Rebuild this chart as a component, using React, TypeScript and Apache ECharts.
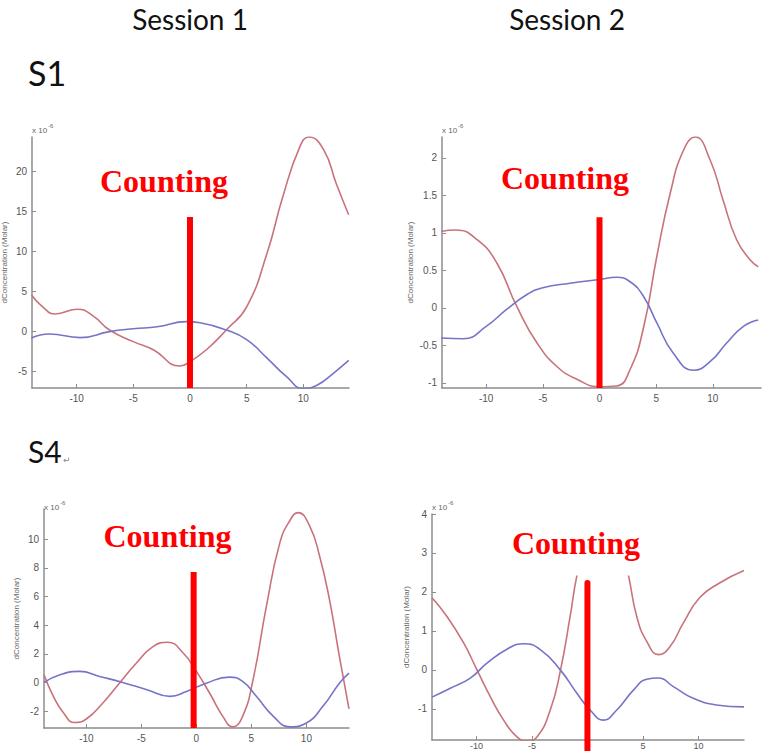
import React, { useEffect, useRef } from "react";
import * as echarts from "echarts";

// ---- tick labels ----
const xTicks = [-10, -5, 0, 5, 10];
const yTicksP1 = [-5, 0, 5, 10, 15, 20];
const yTicksP2 = [-1, -0.5, 0, 0.5, 1, 1.5, 2];
const yTicksP3 = [-2, 0, 2, 4, 6, 8, 10];
const yTicksP4 = [-1, 0, 1, 2, 3, 4];

// ---- axis ranges ----
const xMin = [-13.94, -13.9, -13.85, -14.0];
const xMax = [14.03, 14.25, 13.87, 14.1];
const yMin = [-7.04, -1.067, -3.18, -1.8];
const yMax = [24.3, 2.28, 12.1, 4.0];

// ---- titles ----
const sessionTitles = ["Session 1", "Session 2"];
const subjectTitles = ["S1", "S4"];
const countingLabel = "Counting";
const yAxisName = "dConcentration (Molar)";

// ---- "Counting" marker line ----
const countingX = [0, 0, -0.25, 0];
const countingTop = [14.3, 1.21, 7.7, 2.23];
const countingBottom = [-7.04, -1.067, -3.18, -2.08];

// ---- S1, Session 1 ----
const p1RedX = [-14, -13, -11.9, -9.9, -8.5, -7.1, -5, -3.2, -0.9, 0, 1.5, 3.2, 5, 6.8, 8.2, 9.7, 10.5, 11.8, 12.9, 14];
const p1RedY = [4.6, 3.1, 2.2, 2.8, 1.9, 0.2, -1.25, -2.3, -4.3, -3.75, -2.2, 0.2, 3.1, 9.8, 16.9, 23.1, 24.3, 22.7, 18.5, 14.6];
const p1BlueX = [-14, -12.4, -9.7, -7.1, -5, -2.9, -0.3, 0.9, 3.2, 5, 6.8, 8.5, 10, 11.2, 12.65, 14];
const p1BlueY = [-0.8, -0.3, -0.75, 0, 0.35, 0.6, 1.25, 1.1, 0.2, -1.0, -3.3, -5.6, -7.1, -6.7, -5.2, -3.6];

// ---- S1, Session 2 ----
const p2RedX = [-14, -12.7, -10.8, -9.06, -7.3, -5.5, -3.76, -2, 0, 1.5, 2.7, 3.9, 5.06, 6.24, 7.4, 8.45, 9.77, 10.9, 12.1, 13.3, 14];
const p2RedY = [1.02, 1.04, 0.91, 0.6, 0.02, -0.47, -0.78, -0.95, -1.05, -1.04, -0.82, -0.25, 0.69, 1.53, 2.1, 2.28, 1.97, 1.44, 0.91, 0.64, 0.55];
const p2BlueX = [-14, -12, -10, -8.2, -6.4, -5, -2.6, 0, 1.5, 2.7, 3.9, 5.06, 6.5, 8.3, 9.8, 11.2, 12.7, 14];
const p2BlueY = [-0.4, -0.41, -0.245, -0.02, 0.18, 0.27, 0.33, 0.38, 0.41, 0.35, 0.15, -0.2, -0.6, -0.83, -0.71, -0.47, -0.245, -0.16];

// ---- S4, Session 1 ----
const p3RedX = [-13.85, -13, -12.1, -11.06, -10, -8.5, -7, -5.45, -3.95, -2.6, -1.2, 0, 1.2, 2.4, 3.3, 4.2, 5.15, 6.36, 7.57, 8.5, 9.24, 10.3, 11.2, 12.1, 13, 13.87];
const p3RedY = [0.54, -0.97, -2.1, -2.8, -2.55, -1.44, -0.05, 1.35, 2.5, 2.8, 2.05, 0.77, -0.74, -2.37, -3.1, -2.37, 0.19, 5.3, 9.7, 11.3, 11.85, 10.9, 8.8, 5.76, 1.8, -1.85];
const p3BlueX = [-13.85, -12.4, -10.6, -8.8, -6.7, -4.5, -2.4, -0.9, 0.9, 3.0, 4.2, 5.45, 7.0, 8.5, 10, 11.5, 13, 13.87];
const p3BlueY = [0, 0.54, 0.77, 0.42, 0, -0.51, -0.97, -0.63, -0.05, 0.37, 0.07, -0.97, -2.37, -3.1, -2.83, -1.67, -0.05, 0.65];

// ---- S4, Session 2 ----
const p4RedX = [-14, -12.65, -11.15, -9.95, -8.75, -7.55, -6.35, -5.45, -4.55, -3.35, -2.45, -1.56, -0.95, 0, 1.4, 2.8, 3.7, 4.44, 5.34, 6.4, 7.44, 8.63, 10.1, 11.9, 14.1];
const p4RedY = [1.85, 1.37, 0.69, 0, -0.69, -1.29, -1.72, -1.82, -1.72, -1.03, -0.04, 1.37, 2.42, 3.5, 3.9, 3.5, 2.42, 1.37, 0.73, 0.39, 0.6, 1.2, 1.85, 2.23, 2.55];
const p4BlueX = [-14, -12.35, -10.55, -9.05, -7.25, -5.75, -4.25, -2.45, -0.95, 0.24, 1.44, 2.64, 4.14, 5.34, 6.4, 7.74, 9.53, 11.6, 14.1];
const p4BlueY = [-0.7, -0.47, -0.21, 0.17, 0.53, 0.67, 0.52, 0, -0.6, -1.03, -1.29, -1.03, -0.52, -0.24, -0.21, -0.43, -0.73, -0.9, -0.95];

const yTicks = [yTicksP1, yTicksP2, yTicksP3, yTicksP4];
const redX = [p1RedX, p2RedX, p3RedX, p4RedX];
const redY = [p1RedY, p2RedY, p3RedY, p4RedY];
const blueX = [p1BlueX, p2BlueX, p3BlueX, p4BlueX];
const blueY = [p1BlueY, p2BlueY, p3BlueY, p4BlueY];

const zip = (xs: number[], ys: number[]) => xs.map((x, i) => [x, ys[i]]);

const RED = "#c8737a";
const BLUE = "#7674c6";
const AXIS = "#8c8c8c";
const TICKTXT = "#555";

export default function App() {
  const ref = useRef<HTMLDivElement>(null);
  useEffect(() => {
    if (!ref.current) return;
    const chart = echarts.init(ref.current, null, { renderer: "svg" });

    const grids = [
      { left: 32, top: 137, width: 317, height: 251 },
      { left: 442, top: 137, width: 319, height: 251 },
      { left: 44, top: 509, width: 305, height: 219 },
      { left: 432, top: 514, width: 312, height: 226 },
    ];
    const nameGaps = [24, 28, 24, 22];
    const xLabelSize = [10, 10, 10, 9];
    const xLabelMargin = [5, 5, 5, 1];
    const expPos = [
      [32, 130],
      [442, 130],
      [44, 507],
      [432, 507],
    ];
    const countingPos = [
      [164, 181],
      [565, 178],
      [167.5, 536],
      [576, 542.5],
    ];

    const xAxis = grids.map((_, i) => ({
      type: "value",
      gridIndex: i,
      min: xMin[i],
      max: xMax[i],
      axisLine: { show: true, onZero: false, lineStyle: { color: AXIS, width: 1.5 } },
      axisTick: { show: true, inside: true, length: 4, customValues: xTicks, lineStyle: { color: AXIS } },
      axisLabel: {
        customValues: xTicks,
        color: TICKTXT,
        fontSize: xLabelSize[i],
        fontFamily: "Liberation Sans",
        margin: xLabelMargin[i],
      },
      splitLine: { show: false },
    }));

    const yAxis = grids.map((_, i) => ({
      type: "value",
      gridIndex: i,
      min: yMin[i],
      max: yMax[i],
      name: yAxisName,
      nameLocation: "middle",
      nameGap: nameGaps[i],
      nameTextStyle: { color: "#666", fontSize: 8, fontFamily: "Liberation Sans" },
      axisLine: { show: true, onZero: false, lineStyle: { color: AXIS, width: 1.5 } },
      axisTick: { show: true, inside: true, length: 4, customValues: yTicks[i], lineStyle: { color: AXIS } },
      axisLabel: {
        customValues: yTicks[i],
        color: TICKTXT,
        fontSize: 10,
        fontFamily: "Liberation Sans",
        margin: 5,
      },
      splitLine: { show: false },
    }));

    const series: any[] = [];
    grids.forEach((_, i) => {
      series.push({
        type: "line",
        xAxisIndex: i,
        yAxisIndex: i,
        data: zip(redX[i], redY[i]),
        smooth: 0.5,
        showSymbol: false,
        symbol: "none",
        lineStyle: { color: RED, width: 1.6 },
        z: 3,
      });
      series.push({
        type: "line",
        xAxisIndex: i,
        yAxisIndex: i,
        data: zip(blueX[i], blueY[i]),
        smooth: 0.5,
        showSymbol: false,
        symbol: "none",
        lineStyle: { color: BLUE, width: 1.6 },
        z: 3,
      });
      series.push({
        type: "line",
        xAxisIndex: i,
        yAxisIndex: i,
        data: [
          [countingX[i], countingBottom[i]],
          [countingX[i], countingTop[i]],
        ],
        showSymbol: false,
        symbol: "none",
        clip: false,
        lineStyle: { color: "#ff0000", width: 6, cap: i === 3 ? "round" : "butt" },
        z: 4,
      });
    });

    const graphic: any[] = [];
    // white patch hiding the peak in the last panel
    graphic.push({
      type: "rect",
      shape: { x: 500, y: 512, width: 150, height: 63.5 },
      style: { fill: "#ffffff" },
      z: 50,
    });
    sessionTitles.forEach((t, i) => {
      graphic.push({
        type: "text",
        x: i === 0 ? 190 : 567,
        y: 18.5,
        style: {
          text: t,
          fontFamily: "Lato",
          fontSize: 28,
          fill: "#111",
          textAlign: "center",
          textVerticalAlign: "middle",
        },
        z: 60,
      });
    });
    graphic.push({
      type: "text",
      x: 28,
      y: 72.5,
      style: { text: subjectTitles[0], fontFamily: "Lato", fontSize: 34, fill: "#111", textAlign: "left", textVerticalAlign: "middle" },
      z: 60,
    });
    graphic.push({
      type: "text",
      x: 28,
      y: 451,
      style: { text: subjectTitles[1], fontFamily: "Lato", fontSize: 30, fill: "#111", textAlign: "left", textVerticalAlign: "middle" },
      z: 60,
    });
    graphic.push({
      type: "text",
      x: 63,
      y: 460,
      style: { text: "\u21B5", fontFamily: "DejaVu Sans", fontSize: 9, fill: "#888", textAlign: "left", textVerticalAlign: "middle" },
      z: 60,
    });
    grids.forEach((_, i) => {
      graphic.push({
        type: "text",
        x: countingPos[i][0],
        y: countingPos[i][1],
        style: {
          text: countingLabel,
          fontFamily: "Liberation Serif",
          fontWeight: "bold",
          fontSize: 32,
          fill: "#ff0000",
          textAlign: "center",
          textVerticalAlign: "middle",
        },
        z: 60,
      });
      graphic.push({
        type: "text",
        x: expPos[i][0],
        y: expPos[i][1],
        style: { text: "x 10", fontFamily: "Liberation Sans", fontSize: 8, fill: "#666", textAlign: "left", textVerticalAlign: "middle" },
        z: 60,
      });
      graphic.push({
        type: "text",
        x: expPos[i][0] + 16,
        y: expPos[i][1] - 4,
        style: { text: "-6", fontFamily: "Liberation Sans", fontSize: 6, fill: "#666", textAlign: "left", textVerticalAlign: "middle" },
        z: 60,
      });
    });

    chart.setOption({
      animation: false,
      backgroundColor: "#ffffff",
      grid: grids.map((g) => ({ ...g, containLabel: false, outerBoundsMode: "none" })),
      xAxis,
      yAxis,
      series,
      graphic,
    });
    return () => chart.dispose();
  }, []);
  return (
    <div
      ref={ref}
      style={{ position: "absolute", left: 0, top: 0, width: 766, height: 751, background: "#fff" }}
    />
  );
}
